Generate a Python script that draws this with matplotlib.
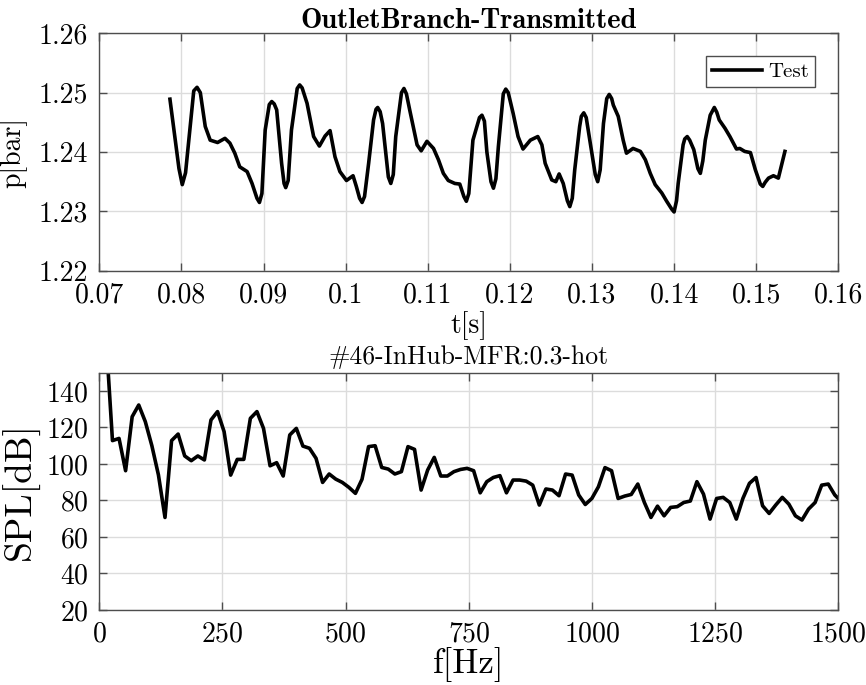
import numpy as np
import matplotlib
matplotlib.use('Agg')
import matplotlib.pyplot as plt
from matplotlib.ticker import FuncFormatter

# pressure signal at outlet branch
t = [0.0786, 0.0797, 0.0801, 0.0805, 0.0815, 0.0819, 0.0823, 0.0829, 0.0835, 0.0844,
     0.0853, 0.0859, 0.0865, 0.0871, 0.0880, 0.0886, 0.0892, 0.0895, 0.0898, 0.0902,
     0.0907, 0.0910, 0.0913, 0.0916, 0.0922, 0.0925, 0.0927, 0.0930, 0.0934, 0.0941,
     0.0944, 0.0947, 0.0953, 0.0961, 0.0968, 0.0975, 0.0981, 0.0987, 0.0993, 0.1001,
     0.1009, 0.1013, 0.1017, 0.1020, 0.1023, 0.1028, 0.1034, 0.1037, 0.1039, 0.1042,
     0.1045, 0.1052, 0.1055, 0.1058, 0.1061, 0.1068, 0.1071, 0.1074, 0.1078, 0.1087,
     0.1092, 0.1099, 0.1107, 0.1113, 0.1119, 0.1125, 0.1133, 0.1139, 0.1144, 0.1147,
     0.1150, 0.1155, 0.1163, 0.1166, 0.1169, 0.1172, 0.1177, 0.1180, 0.1183, 0.1186,
     0.1192, 0.1195, 0.1198, 0.1204, 0.1210, 0.1216, 0.1225, 0.1234, 0.1239, 0.1243,
     0.1251, 0.1256, 0.1260, 0.1265, 0.1270, 0.1273, 0.1276, 0.1279, 0.1285, 0.1287,
     0.1290, 0.1293, 0.1296, 0.1304, 0.1307, 0.1310, 0.1314, 0.1318, 0.1321, 0.1324,
     0.1326, 0.1332, 0.1338, 0.1342, 0.1350, 0.1359, 0.1365, 0.1371, 0.1377, 0.1385,
     0.1391, 0.1397, 0.1400, 0.1403, 0.1405, 0.1411, 0.1413, 0.1416, 0.1419, 0.1424,
     0.1429, 0.1432, 0.1435, 0.1438, 0.1444, 0.1449, 0.1452, 0.1455, 0.1462, 0.1468,
     0.1476, 0.1480, 0.1486, 0.1493, 0.1499, 0.1505, 0.1508, 0.1511, 0.1515, 0.1521,
     0.1527, 0.1535]
p = [1.2489, 1.2372, 1.2345, 1.2365, 1.2503, 1.2509, 1.2500, 1.2443, 1.2420, 1.2416,
     1.2423, 1.2415, 1.2398, 1.2375, 1.2367, 1.2347, 1.2322, 1.2315, 1.2330, 1.2437,
     1.2480, 1.2485, 1.2481, 1.2471, 1.2381, 1.2347, 1.2340, 1.2352, 1.2437, 1.2507,
     1.2513, 1.2508, 1.2482, 1.2426, 1.2410, 1.2427, 1.2436, 1.2392, 1.2367, 1.2352,
     1.2360, 1.2342, 1.2322, 1.2315, 1.2325, 1.2381, 1.2454, 1.2472, 1.2475, 1.2468,
     1.2448, 1.2358, 1.2347, 1.2362, 1.2426, 1.2500, 1.2507, 1.2498, 1.2471, 1.2412,
     1.2402, 1.2418, 1.2406, 1.2387, 1.2364, 1.2352, 1.2347, 1.2346, 1.2325, 1.2317,
     1.2330, 1.2420, 1.2458, 1.2462, 1.2452, 1.2400, 1.2350, 1.2339, 1.2355, 1.2409,
     1.2498, 1.2506, 1.2500, 1.2465, 1.2426, 1.2405, 1.2420, 1.2426, 1.2412, 1.2381,
     1.2353, 1.2350, 1.2363, 1.2347, 1.2318, 1.2308, 1.2322, 1.2370, 1.2443, 1.2460,
     1.2466, 1.2458, 1.2432, 1.2362, 1.2350, 1.2370, 1.2448, 1.2490, 1.2497, 1.2490,
     1.2479, 1.2460, 1.2420, 1.2398, 1.2406, 1.2401, 1.2387, 1.2364, 1.2345, 1.2331,
     1.2317, 1.2304, 1.2299, 1.2318, 1.2347, 1.2412, 1.2422, 1.2426, 1.2420, 1.2404,
     1.2372, 1.2364, 1.2385, 1.2420, 1.2462, 1.2475, 1.2467, 1.2454, 1.2440, 1.2426,
     1.2405, 1.2406, 1.2401, 1.2399, 1.2370, 1.2346, 1.2342, 1.2349, 1.2356, 1.2360,
     1.2356, 1.2401]

# spectrum, one value per frequency bin
df = 13.33
spl = [170.6, 112.8, 114.0, 96.3, 125.9, 132.3, 123.2, 110.0, 94.0, 70.7,
       112.8, 116.4, 104.4, 101.8, 104.4, 102.2, 124.1, 128.7, 117.7, 93.9,
       102.5, 102.5, 125.0, 128.7, 119.5, 99.0, 100.7, 93.4, 115.9, 119.5,
       109.8, 108.6, 103.1, 89.9, 94.5, 91.7, 89.9, 87.2, 83.9, 91.6,
       109.5, 110.0, 98.1, 97.2, 94.5, 95.8, 109.5, 108.0, 85.7, 96.7,
       103.6, 93.4, 93.4, 95.8, 97.0, 97.6, 96.3, 84.2, 90.3, 92.6,
       93.6, 84.2, 91.2, 91.2, 90.6, 88.4, 77.5, 86.3, 85.7, 82.6,
       94.5, 93.9, 83.0, 77.8, 81.1, 87.5, 98.0, 96.3, 81.1, 82.4,
       83.3, 89.0, 78.9, 70.7, 76.9, 71.6, 76.2, 76.6, 78.9, 79.7,
       90.3, 83.5, 69.8, 81.1, 81.7, 78.9, 69.8, 81.1, 89.4, 92.6,
       77.1, 72.9, 77.5, 81.7, 78.0, 71.6, 69.3, 75.3, 78.9, 88.4,
       89.0, 83.0, 79.4]
freq = np.arange(1, len(spl) + 1) * df

plt.rcParams['font.family'] = 'cmr10'
plt.rcParams['mathtext.fontset'] = 'cm'
plt.rcParams['axes.unicode_minus'] = False
plt.rcParams['axes.formatter.use_mathtext'] = True

fig = plt.figure(figsize=(8.66, 6.85), dpi=100)
ax1 = fig.add_axes([0.1147, 0.6048, 0.8533, 0.3466])
ax2 = fig.add_axes([0.1147, 0.1095, 0.8533, 0.3464])

def matlab_style(ax):
    ax.grid(True, color='#dcdcdc', linewidth=1)
    ax.set_axisbelow(True)
    for s in ax.spines.values():
        s.set_color('#4d4d4d')
        s.set_linewidth(1.0)
    ax.tick_params(direction='in', length=6, width=1, color='#4d4d4d',
                   top=True, right=True, labelsize=20, pad=8)

fmt = FuncFormatter(lambda v, pos: '%g' % round(v, 4))

# top: time signal
ax1.plot(t, p, color='k', linewidth=2.6, label='Test', solid_joinstyle='round')
ax1.set_xlim(0.07, 0.16)
ax1.set_ylim(1.22, 1.26)
ax1.set_xticks(np.round(np.arange(0.07, 0.1601, 0.01), 2))
ax1.set_yticks([1.22, 1.23, 1.24, 1.25, 1.26])
ax1.xaxis.set_major_formatter(fmt)
ax1.yaxis.set_major_formatter(fmt)
matlab_style(ax1)
ax1.set_xlabel('t[s]', fontsize=20, labelpad=2)
ax1.set_ylabel('p[bar]', fontsize=20, labelpad=8)
ax1.set_title('OutletBranch-Transmitted', fontsize=20.5, family='cmb10', pad=4)
leg = ax1.legend(loc='upper right', fontsize=15, fancybox=False, handlelength=2.4,
                 handletextpad=0.3, borderpad=0.3, borderaxespad=1.1, framealpha=1)
leg.get_frame().set_edgecolor('#4d4d4d')
leg.get_frame().set_linewidth(1.0)

# bottom: spectrum
ax2.plot(freq, spl, color='k', linewidth=2.6, solid_joinstyle='round')
ax2.set_xlim(0, 1500)
ax2.set_ylim(20, 150)
ax2.set_xticks([0, 250, 500, 750, 1000, 1250, 1500])
ax2.set_yticks([20, 40, 60, 80, 100, 120, 140])
matlab_style(ax2)
ax2.set_xlabel('f[Hz]', fontsize=25, va='bottom')
ax2.xaxis.set_label_coords(0.5, -0.305)
ax2.set_ylabel('SPL[dB]', fontsize=27, labelpad=4)
ax2.set_title('#46-InHub-MFR:0.3-hot', fontsize=18.5, pad=6)

fig.savefig('out.png', dpi=100)
